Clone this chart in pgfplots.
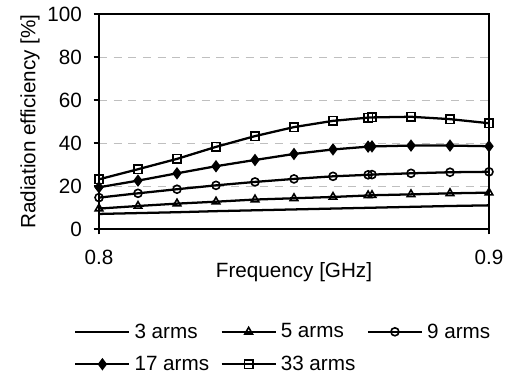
\documentclass[border=0pt]{standalone}
\usepackage{fontspec}
\setmainfont{Liberation Sans}
\usepackage{pgfplots}
\pgfplotsset{compat=1.18}
\newcommand{\lt}[1]{\makebox[61.5pt][l]{#1}}
\begin{document}
\begin{tikzpicture}[x=1pt,y=1pt]
\path[use as bounding box] (-74.25,-111.75) rectangle (312,171.75);
\begin{axis}[
  at={(0,0)}, anchor=south west,
  width=292.5pt, height=161.25pt, scale only axis,
  xmin=0.8, xmax=0.9, ymin=0, ymax=100,
  xtick={0.8,0.9}, xticklabels={0.8,0.9},
  ytick={0,20,40,60,80,100},
  tick align=outside, tick pos=left,
  major tick length=4pt,
  ymajorgrids, grid style={black!25, line width=0.6pt, dash pattern=on 6pt off 5pt},
  axis line style={line width=2pt},
  tick style={black, line width=0.8pt},
  font=\fontsize{15.5}{18}\selectfont,
  tick label style={font=\fontsize{15.5}{18}\selectfont},
  xticklabel style={yshift=-8pt},
  yticklabel style={xshift=-5.4pt},
  /pgf/number format/assume math mode=true,
  xlabel={Frequency [GHz]}, ylabel={Radiation efficiency [\%]},
  xlabel style={at={(axis description cs:0.5,0)}, anchor=north, yshift=-21.4pt},
  ylabel style={at={(axis description cs:0,0.5)}, anchor=north, yshift=62.5pt},
  every axis plot/.append style={black, line width=1.7pt, mark size=3pt, mark options={solid, line width=1.2pt, fill=white}},
  legend columns=3,
  legend style={draw=none, fill=none, at={(axis description cs:-0.0744,-0.5535)}, anchor=west,
    font=\fontsize{15.5}{18}\selectfont, row sep=12pt, column sep=3pt,
    nodes={inner sep=0pt}},
  legend cell align=left,
  legend image code/.code={\draw[mark repeat=2,mark phase=2] plot coordinates {(0pt,0pt) (20.25pt,0pt) (40.5pt,0pt)};},
]
\addplot[no marks] coordinates {(0.80,7.0)(0.81,7.4)(0.82,7.8)(0.83,8.3)(0.84,8.7)(0.85,9.1)(0.86,9.5)(0.87,9.9)(0.88,10.3)(0.89,10.7)(0.90,11.0)};
\addlegendentry{\lt{3 arms}}
\addplot[mark=triangle, mark size=3.3pt] coordinates {(0.80,9.5)(0.81,10.7)(0.82,11.8)(0.83,12.7)(0.84,13.7)(0.85,14.3)(0.86,14.9)(0.869,15.6)(0.87,15.7)(0.88,16.1)(0.89,16.6)(0.90,16.9)};
\addlegendentry{\lt{5 arms}}
\addplot[mark=o] coordinates {(0.80,14.6)(0.81,16.6)(0.82,18.5)(0.83,20.3)(0.84,21.9)(0.85,23.3)(0.86,24.5)(0.869,25.2)(0.87,25.3)(0.88,25.9)(0.89,26.4)(0.90,26.6)};
\addlegendentry{\lt{9 arms}}
\addplot[mark=diamond*, mark size=3.3pt, mark options={fill=black}] coordinates {(0.80,19.4)(0.81,22.5)(0.82,25.9)(0.83,29.2)(0.84,32.1)(0.85,34.9)(0.86,37.0)(0.869,38.3)(0.87,38.4)(0.88,38.8)(0.89,38.8)(0.90,38.5)};
\addlegendentry{\lt{17 arms}}
\addplot[mark=square, mark size=3.2pt] coordinates {(0.80,23.1)(0.81,27.8)(0.82,32.6)(0.83,38.2)(0.84,43.2)(0.85,47.4)(0.86,50.3)(0.869,51.8)(0.87,51.9)(0.88,52.2)(0.89,51.1)(0.90,49.2)};
\addlegendentry{\lt{33 arms}}
\end{axis}
\end{tikzpicture}
\end{document}
